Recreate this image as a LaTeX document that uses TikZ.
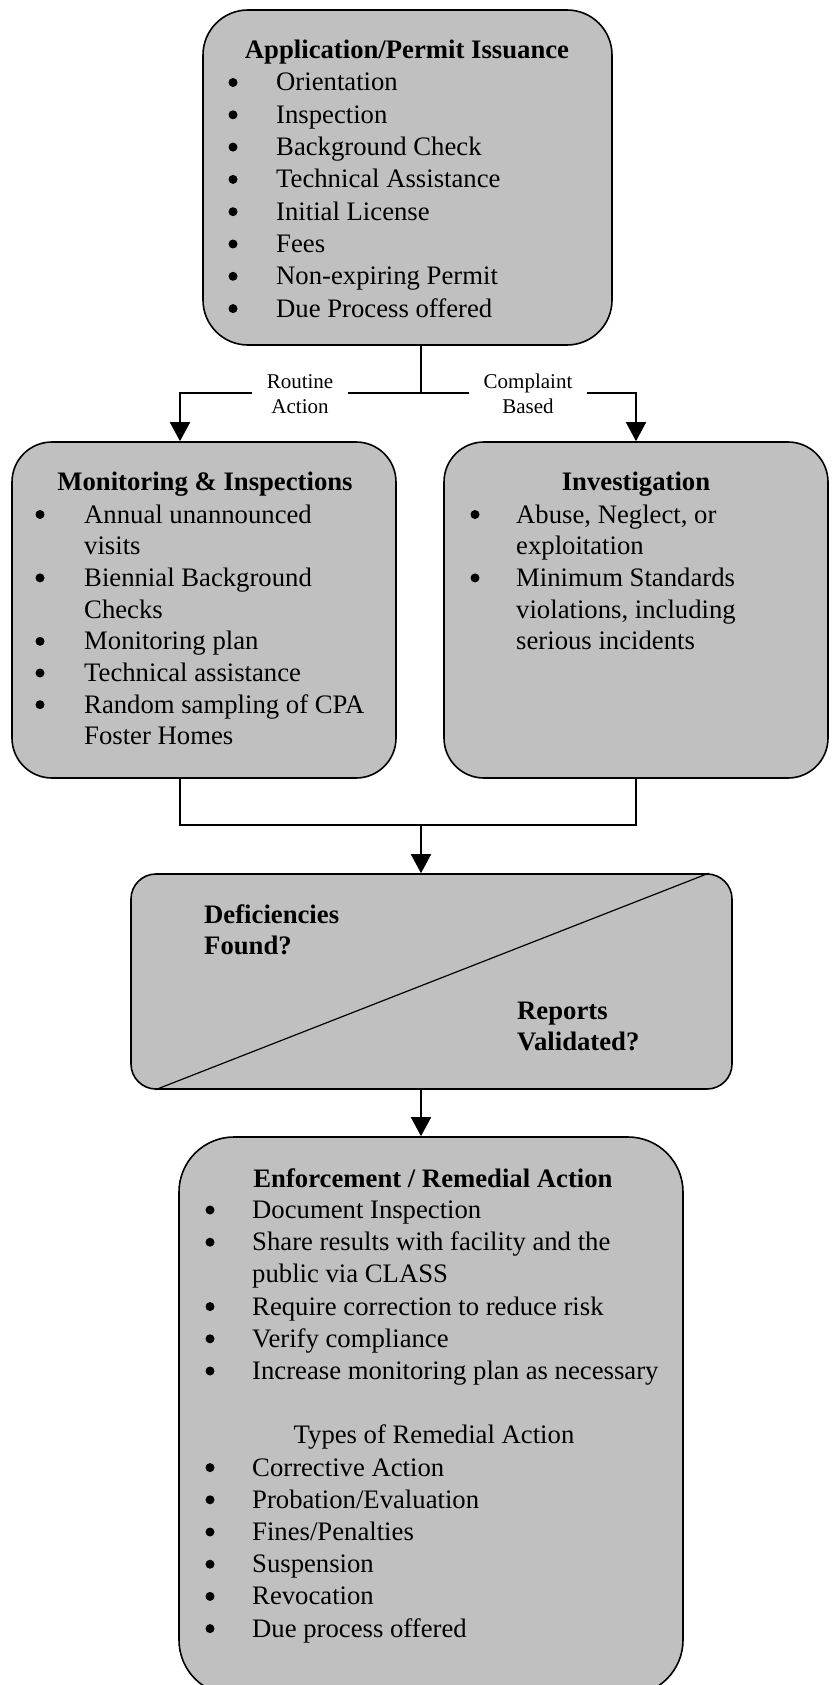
\documentclass[tikz,border=0pt]{standalone}
\usepackage{fontspec}
\setmainfont{Liberation Serif}
\usetikzlibrary{arrows.meta,positioning}
\definecolor{boxgray}{HTML}{C0C0C0}
\tikzset
{
    box/.style       = {rectangle, rounded corners=#1, draw=black, fill=boxgray, line width=1.6pt, inner sep=0pt},
    link/.style      = {line width=1.6pt},
    arrow/.style     = {line width=1.6pt, -{Triangle[length=19pt, width=20pt]}},
    heading/.style   = {font=\bfseries\fontsize{26.7}{32}\selectfont, anchor=base, inner sep=0pt},
    item/.style      = {font=\fontsize{26.7}{32}\selectfont, anchor=base west, inner sep=0pt},
    dot/.style       = {circle, fill=black, inner sep=0pt, minimum size=9pt},
    forklabel/.style = {fill=white, align=center, font=\fontsize{21}{25}\selectfont, inner xsep=15pt, inner ysep=2pt}
}

\begin{document}
\begin{tikzpicture}[x=1pt, y=1pt]
    \useasboundingbox (0,0) rectangle (835,-1685);
    % boxes
    \node (app)   [box=45pt, minimum width=409pt, minimum height=335pt] at (407.5,-177.5) {};
    \node (mon)   [box=40pt, minimum width=384pt, minimum height=336pt] at (204,-610)     {};
    \node (inv)   [box=40pt, minimum width=384pt, minimum height=336pt] at (636,-610)     {};
    \node (dec)   [box=25pt, minimum width=601pt, minimum height=215pt] at (431.5,-981.5) {};
    \node (rem)   [box=55pt, minimum width=504pt, minimum height=558pt] at (431,-1416)    {};

    \coordinate (split) at (421,-393);
    \coordinate (lfork) at (180,-393);
    \coordinate (rfork) at (636,-393);
    \coordinate (join)  at (421,-825);

    % connectors
    \draw[link]  (app.south -| split) -- (split);
    \draw[arrow] (split) -| (lfork |- mon.north);
    \draw[arrow] (split) -| (rfork |- inv.north);
    \node (routine)   [forklabel] at (300,-394) {Routine\\Action};
    \node (complaint) [forklabel] at (528,-394) {Complaint\\Based};
    \draw[link]  (lfork |- mon.south) |- (join) -| (rfork |- inv.south);
    \draw[arrow] (join) -- (join |- dec.north);
    \draw[arrow] (dec.south -| join) -- (rem.north -| join);

    % application / permit
    \node (apphead) [heading] at (407,-59) {Application/Permit Issuance};
    \foreach \txt [count=\i] in {Orientation, Inspection, Background Check, Technical Assistance, Initial License, Fees, Non-expiring Permit, Due Process offered}
    {
        \node (appdot\i)  [dot]  at (233,-50.2-32.3*\i) {};
        \node (appitem\i) [item] at (276,-58.7-32.3*\i) {\txt};
    }

    % monitoring
    \node (monhead) [heading] at (205,-490) {Monitoring \& Inspections};
    \foreach \b/\txt [count=\i] in {1/Annual unannounced, 0/visits, 1/Biennial Background, 0/Checks, 1/Monitoring plan, 1/Technical assistance, 1/Random sampling of CPA, 0/Foster Homes}
    {
        \node (monitem\i) [item] at (84,-491.3-31.7*\i) {\txt};
        \ifnum\b=1 \node (mondot\i) [dot] at (40,-482.8-31.7*\i) {}; \fi
    }

    % investigation
    \node (invhead) [heading] at (636,-490) {Investigation};
    \foreach \b/\txt [count=\i] in {1/{Abuse, Neglect, or}, 0/exploitation, 1/Minimum Standards, 0/{violations, including}, 0/serious incidents}
    {
        \node (invitem\i) [item] at (516,-491.3-31.7*\i) {\txt};
        \ifnum\b=1 \node (invdot\i) [dot] at (475,-482.8-31.7*\i) {}; \fi
    }

    % decision
    \draw[line width=1.2pt] ([xshift=25pt]dec.south west) -- ([xshift=-24pt]dec.north east);
    \node (defic)   [heading, anchor=base west] at (204,-923)  {Deficiencies};
    \node (found)   [heading, anchor=base west] at (204,-954)  {Found?};
    \node (reports) [heading, anchor=base west] at (517,-1019) {Reports};
    \node (valid)   [heading, anchor=base west] at (517,-1050) {Validated?};

    % enforcement
    \node (remhead) [heading] at (433,-1187) {Enforcement / Remedial Action};
    \foreach \b/\txt [count=\i] in {1/Document Inspection, 1/Share results with facility and the, 0/public via CLASS, 1/Require correction to reduce risk, 1/Verify compliance, 1/Increase monitoring plan as necessary}
    {
        \node (remitem\i) [item] at (252,-1186.3-32.2*\i) {\txt};
        \ifnum\b=1 \node (remdot\i) [dot] at (210,-1177.8-32.2*\i) {}; \fi
    }
    \node (types) [item, anchor=base] at (434,-1443) {Types of Remedial Action};
    \foreach \txt [count=\i from 9] in {Corrective Action, Probation/Evaluation, Fines/Penalties, Suspension, Revocation, Due process offered}
    {
        \node (remdot\i)  [dot]  at (210,-1177.8-32.2*\i) {};
        \node (remitem\i) [item] at (252,-1186.3-32.2*\i) {\txt};
    }
\end{tikzpicture}
\end{document}
